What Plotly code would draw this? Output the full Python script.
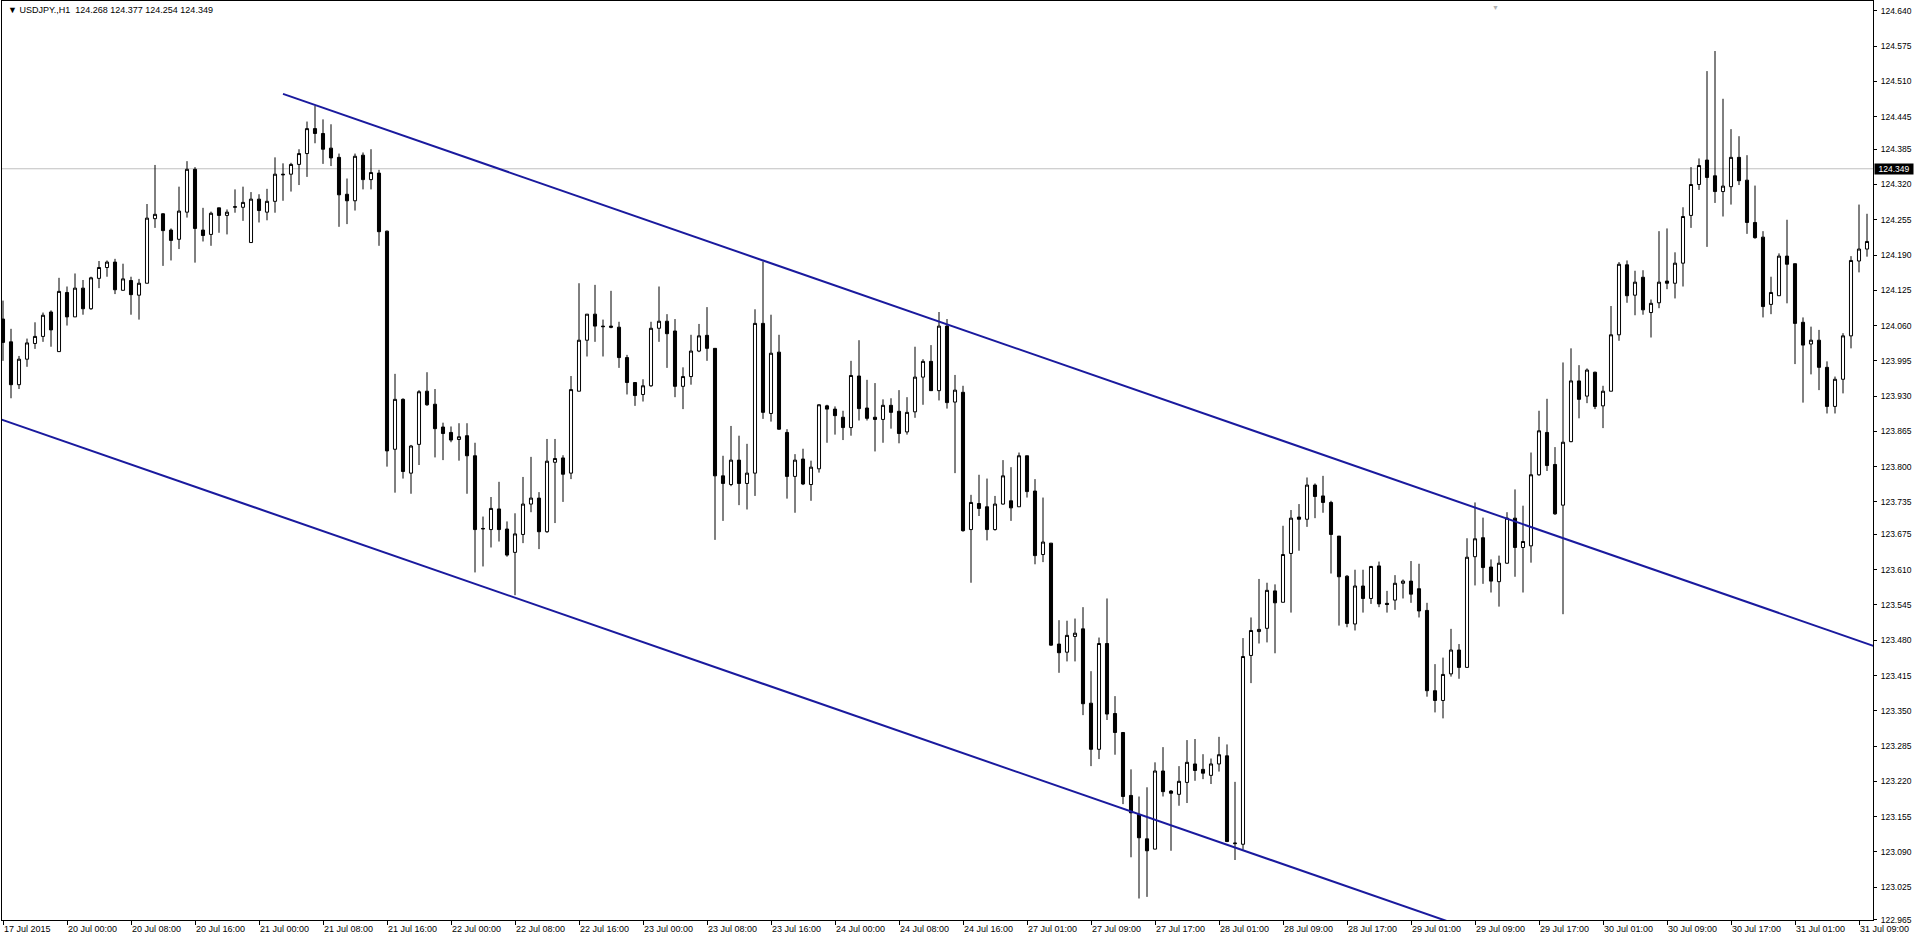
import plotly.graph_objects as go

# ---------------- data (USDJPY H1) ----------------
opens = [
    124.072, 124.030, 123.951, 123.998, 124.027, 124.040, 124.085, 124.012, 124.121, 124.076,
    124.129, 124.091, 124.147, 124.167, 124.177, 124.125, 124.143, 124.116, 124.138, 124.257,
    124.266, 124.236, 124.219, 124.269, 124.348, 124.236, 124.228, 124.277, 124.263, 124.278,
    124.278, 124.213, 124.293, 124.269, 124.289, 124.339, 124.339, 124.357, 124.377, 124.423,
    124.414, 124.387, 124.370, 124.302, 124.290, 124.374, 124.329, 124.341, 124.234, 123.832,
    123.924, 123.788, 123.841, 123.939, 123.915, 123.873, 123.863, 123.850, 123.857, 123.820,
    123.685, 123.684, 123.722, 123.685, 123.642, 123.675, 123.731, 123.742, 123.680, 123.808,
    123.816, 123.788, 123.939, 124.033, 124.081, 124.059, 124.059, 124.057, 124.001, 123.955,
    123.933, 123.949, 124.055, 124.068, 124.050, 123.948, 123.966, 124.013, 124.042, 124.018,
    123.783, 123.767, 123.812, 123.769, 123.788, 124.064, 123.898, 124.011, 123.863, 123.782,
    123.814, 123.767, 123.796, 123.912, 123.906, 123.891, 123.872, 123.967, 123.908, 123.891,
    123.887, 123.913, 123.902, 123.864, 123.901, 123.965, 123.994, 123.940, 124.059, 123.919,
    123.937, 123.684, 123.732, 123.726, 123.684, 123.731, 123.737, 123.726, 123.820, 123.755,
    123.638, 123.659, 123.473, 123.458, 123.487, 123.501, 123.364, 123.279, 123.474, 123.345,
    123.310, 123.194, 123.159, 123.114, 123.095, 123.239, 123.202, 123.196, 123.218, 123.252,
    123.242, 123.231, 123.252, 123.267, 123.105, 123.104, 123.452, 123.496, 123.502, 123.571,
    123.550, 123.640, 123.707, 123.703, 123.766, 123.746, 123.734, 123.672, 123.598, 123.510,
    123.580, 123.557, 123.617, 123.548, 123.554, 123.585, 123.589, 123.575, 123.535, 123.387,
    123.369, 123.418, 123.462, 123.430, 123.634, 123.669, 123.615, 123.588, 123.622, 123.705,
    123.651, 123.654, 123.785, 123.863, 123.804, 123.729, 123.846, 123.958, 123.930, 123.974,
    123.912, 123.939, 124.043, 124.172, 124.116, 124.149, 124.084, 124.102, 124.142, 124.138,
    124.175, 124.263, 124.320, 124.365, 124.336, 124.307, 124.316, 124.370, 124.328, 124.250,
    124.223, 124.099, 124.115, 124.188, 124.174, 124.066, 124.026, 124.033, 123.983, 123.911,
    123.961, 124.041, 124.179, 124.201,
]
highs = [
    124.106, 124.054, 124.004, 124.036, 124.066, 124.084, 124.088, 124.148, 124.132, 124.156,
    124.144, 124.150, 124.179, 124.180, 124.183, 124.174, 124.150, 124.146, 124.284, 124.356,
    124.267, 124.239, 124.316, 124.363, 124.352, 124.277, 124.270, 124.277, 124.274, 124.311,
    124.316, 124.306, 124.302, 124.312, 124.370, 124.359, 124.360, 124.385, 124.436, 124.465,
    124.440, 124.431, 124.377, 124.331, 124.377, 124.379, 124.385, 124.347, 124.235, 123.971,
    123.926, 123.840, 123.941, 123.974, 123.943, 123.881, 123.874, 123.880, 123.880, 123.844,
    123.708, 123.744, 123.772, 123.699, 123.714, 123.781, 123.818, 123.753, 123.851, 123.851,
    123.821, 123.967, 124.138, 124.081, 124.135, 124.071, 124.124, 124.067, 124.006, 123.955,
    123.961, 124.067, 124.132, 124.081, 124.072, 123.983, 124.043, 124.063, 124.094, 124.018,
    123.820, 123.875, 123.857, 123.842, 124.090, 124.178, 124.080, 124.043, 123.869, 123.823,
    123.833, 123.811, 123.915, 123.914, 123.911, 123.903, 123.995, 124.033, 123.960, 123.954,
    123.924, 123.926, 123.941, 123.928, 124.021, 123.998, 124.024, 124.085, 124.072, 123.969,
    123.949, 123.748, 123.785, 123.778, 123.746, 123.812, 123.799, 123.826, 123.820, 123.777,
    123.743, 123.659, 123.517, 123.516, 123.520, 123.541, 123.423, 123.485, 123.557, 123.377,
    123.310, 123.242, 123.192, 123.209, 123.255, 123.283, 123.204, 123.248, 123.296, 123.298,
    123.270, 123.262, 123.302, 123.288, 123.219, 123.484, 123.522, 123.593, 123.586, 123.583,
    123.691, 123.720, 123.731, 123.780, 123.769, 123.783, 123.737, 123.672, 123.600, 123.610,
    123.610, 123.617, 123.625, 123.571, 123.600, 123.592, 123.626, 123.621, 123.549, 123.436,
    123.448, 123.501, 123.473, 123.668, 123.734, 123.706, 123.629, 123.636, 123.716, 123.758,
    123.728, 123.826, 123.903, 123.925, 123.836, 123.992, 124.018, 123.987, 123.981, 123.975,
    123.949, 124.096, 124.177, 124.180, 124.161, 124.162, 124.108, 124.234, 124.239, 124.195,
    124.278, 124.352, 124.368, 124.529, 124.566, 124.478, 124.422, 124.409, 124.374, 124.318,
    124.234, 124.150, 124.193, 124.255, 124.174, 124.075, 124.058, 124.052, 123.994, 123.966,
    124.046, 124.188, 124.283, 124.266,
]
lows = [
    123.995, 123.926, 123.943, 123.984, 124.017, 124.030, 124.021, 124.012, 124.060, 124.076,
    124.080, 124.089, 124.129, 124.150, 124.118, 124.125, 124.080, 124.071, 124.138, 124.240,
    124.170, 124.180, 124.201, 124.259, 124.176, 124.215, 124.207, 124.231, 124.228, 124.268,
    124.253, 124.213, 124.250, 124.254, 124.268, 124.290, 124.307, 124.319, 124.334, 124.396,
    124.358, 124.354, 124.242, 124.247, 124.272, 124.311, 124.311, 124.207, 123.800, 123.752,
    123.778, 123.750, 123.803, 123.912, 123.817, 123.812, 123.845, 123.811, 123.750, 123.605,
    123.616, 123.651, 123.662, 123.634, 123.563, 123.659, 123.716, 123.648, 123.678, 123.696,
    123.735, 123.777, 123.939, 124.003, 124.030, 124.003, 124.055, 123.982, 123.933, 123.912,
    123.920, 123.947, 124.030, 123.982, 123.928, 123.906, 123.951, 124.011, 123.995, 123.665,
    123.700, 123.764, 123.729, 123.721, 123.746, 123.888, 123.883, 123.868, 123.741, 123.715,
    123.766, 123.737, 123.789, 123.844, 123.859, 123.849, 123.857, 123.885, 123.885, 123.828,
    123.844, 123.870, 123.843, 123.859, 123.890, 123.914, 123.940, 123.922, 123.907, 123.788,
    123.680, 123.586, 123.709, 123.664, 123.682, 123.730, 123.700, 123.726, 123.743, 123.620,
    123.624, 123.470, 123.420, 123.441, 123.441, 123.342, 123.248, 123.261, 123.333, 123.269,
    123.178, 123.080, 123.004, 123.007, 123.095, 123.192, 123.092, 123.175, 123.180, 123.221,
    123.224, 123.215, 123.238, 123.108, 123.075, 123.094, 123.401, 123.474, 123.476, 123.456,
    123.550, 123.531, 123.645, 123.689, 123.705, 123.715, 123.603, 123.507, 123.504, 123.498,
    123.531, 123.547, 123.541, 123.531, 123.536, 123.557, 123.549, 123.522, 123.376, 123.347,
    123.336, 123.413, 123.409, 123.430, 123.581, 123.584, 123.568, 123.542, 123.621, 123.597,
    123.568, 123.623, 123.783, 123.792, 123.711, 123.528, 123.845, 123.889, 123.917, 123.906,
    123.871, 123.939, 124.032, 124.102, 124.079, 124.080, 124.038, 124.092, 124.127, 124.110,
    124.132, 124.240, 124.310, 124.205, 124.286, 124.261, 124.283, 124.319, 124.229, 124.220,
    124.075, 124.081, 124.115, 124.101, 123.989, 123.918, 123.970, 123.941, 123.898, 123.898,
    123.935, 124.018, 124.158, 124.187,
]
closes = [
    124.029, 123.951, 123.998, 124.028, 124.040, 124.079, 124.052, 124.123, 124.076, 124.129,
    124.091, 124.148, 124.167, 124.177, 124.126, 124.146, 124.117, 124.138, 124.258, 124.265,
    124.235, 124.217, 124.271, 124.348, 124.239, 124.226, 124.267, 124.263, 124.269, 124.279,
    124.287, 124.293, 124.272, 124.289, 124.339, 124.338, 124.357, 124.377, 124.423, 124.414,
    124.385, 124.369, 124.301, 124.290, 124.372, 124.329, 124.342, 124.233, 123.829, 123.924,
    123.791, 123.838, 123.938, 123.914, 123.870, 123.861, 123.849, 123.855, 123.820, 123.684,
    123.686, 123.723, 123.684, 123.637, 123.676, 123.731, 123.742, 123.680, 123.810, 123.815,
    123.786, 123.942, 124.033, 124.081, 124.059, 124.058, 124.057, 124.001, 123.955, 123.931,
    123.949, 124.055, 124.068, 124.045, 123.948, 123.966, 124.013, 124.041, 124.018, 123.783,
    123.769, 123.812, 123.769, 123.788, 124.064, 123.900, 124.009, 123.869, 123.782, 123.812,
    123.768, 123.799, 123.914, 123.906, 123.894, 123.872, 123.968, 123.907, 123.889, 123.887,
    123.913, 123.900, 123.861, 123.900, 123.965, 123.994, 123.940, 124.059, 123.918, 123.941,
    123.682, 123.734, 123.723, 123.684, 123.731, 123.783, 123.724, 123.820, 123.754, 123.636,
    123.661, 123.471, 123.457, 123.489, 123.493, 123.363, 123.279, 123.474, 123.344, 123.310,
    123.192, 123.162, 123.116, 123.092, 123.239, 123.201, 123.198, 123.220, 123.255, 123.240,
    123.235, 123.252, 123.269, 123.109, 123.106, 123.450, 123.498, 123.500, 123.572, 123.549,
    123.638, 123.705, 123.703, 123.766, 123.745, 123.734, 123.675, 123.597, 123.511, 123.580,
    123.557, 123.616, 123.547, 123.546, 123.585, 123.589, 123.565, 123.534, 123.387, 123.369,
    123.417, 123.462, 123.430, 123.633, 123.667, 123.614, 123.589, 123.622, 123.705, 123.651,
    123.662, 123.785, 123.866, 123.802, 123.713, 123.845, 123.958, 123.924, 123.978, 123.911,
    123.939, 124.043, 124.173, 124.115, 124.140, 124.089, 124.101, 124.140, 124.138, 124.175,
    124.261, 124.320, 124.355, 124.333, 124.307, 124.317, 124.370, 124.327, 124.250, 124.222,
    124.095, 124.121, 124.188, 124.173, 124.064, 124.024, 124.033, 123.983, 123.911, 123.961,
    124.041, 124.180, 124.201, 124.215,
]
bar_index = list(range(len(opens)))

tick_bars = [0, 8, 16, 24, 32, 40, 48, 56, 64, 72, 80, 88, 96, 104, 112,
             120, 128, 136, 144, 152, 160, 168, 176, 184, 192, 200, 208, 216, 224, 232]
tick_labels = [
    "17 Jul 2015", "20 Jul 00:00", "20 Jul 08:00", "20 Jul 16:00", "21 Jul 00:00",
    "21 Jul 08:00", "21 Jul 16:00", "22 Jul 00:00", "22 Jul 08:00", "22 Jul 16:00",
    "23 Jul 00:00", "23 Jul 08:00", "23 Jul 16:00", "24 Jul 00:00", "24 Jul 08:00",
    "24 Jul 16:00", "27 Jul 01:00", "27 Jul 09:00", "27 Jul 17:00", "28 Jul 01:00",
    "28 Jul 09:00", "28 Jul 17:00", "29 Jul 01:00", "29 Jul 09:00", "29 Jul 17:00",
    "30 Jul 01:00", "30 Jul 09:00", "30 Jul 17:00", "31 Jul 01:00", "31 Jul 09:00",
]
price_ticks = [
    124.640, 124.575, 124.510, 124.445, 124.385, 124.320, 124.255, 124.190, 124.125,
    124.060, 123.995, 123.930, 123.865, 123.800, 123.735, 123.675, 123.610, 123.545,
    123.480, 123.415, 123.350, 123.285, 123.220, 123.155, 123.090, 123.025, 122.965,
]
header_text = "USDJPY.,H1  124.268 124.377 124.254 124.349"
current_price = 124.349

# channel (trend lines), anchor points in (bar, price)
upper_line_bars = [35.0, 240.0]
upper_line_prices = [124.487, 123.438]
lower_line_bars = [-1.0, 240.0]
lower_line_prices = [123.891, 122.658]

# ---------------- figure ----------------
FONT = "Liberation Sans, Arial, sans-serif"
LINE_BLUE = "#1a1a9e"

fig = go.Figure()

fig.add_trace(go.Candlestick(
    x=bar_index, open=opens, high=highs, low=lows, close=closes,
    increasing=dict(fillcolor="white", line=dict(color="black", width=1)),
    decreasing=dict(fillcolor="black", line=dict(color="black", width=1)),
    whiskerwidth=0, showlegend=False, hoverinfo="skip",
))

fig.add_trace(go.Scatter(
    x=upper_line_bars, y=upper_line_prices, mode="lines",
    line=dict(color=LINE_BLUE, width=2), showlegend=False, hoverinfo="skip",
))
fig.add_trace(go.Scatter(
    x=lower_line_bars, y=lower_line_prices, mode="lines",
    line=dict(color=LINE_BLUE, width=2), showlegend=False, hoverinfo="skip",
))

# current price line
fig.add_shape(type="line", xref="paper", x0=0, x1=1, yref="y",
              y0=current_price, y1=current_price,
              line=dict(color="#c0c0c0", width=1), layer="below")

Y_TOP = 124.6582
Y_BOT = 122.9644

fig.update_layout(
    width=1915, height=938,
    margin=dict(l=2, r=42, t=1, b=18, pad=0),
    paper_bgcolor="white", plot_bgcolor="white",
    font=dict(family=FONT, size=9, color="black"),
    boxgap=0.45,
    showlegend=False,
    xaxis=dict(
        range=[-0.125, 233.75], rangeslider=dict(visible=False),
        tickmode="array", tickvals=tick_bars, ticktext=tick_labels,
        ticks="outside", ticklen=4, tickcolor="black", tickwidth=1,
        ticklabelposition="outside right",
        showgrid=False, zeroline=False,
        showline=True, linecolor="black", linewidth=1, mirror=True,
        tickfont=dict(family=FONT, size=9, color="black"),
        fixedrange=True,
    ),
    yaxis=dict(
        range=[Y_BOT, Y_TOP], side="right",
        tickmode="array", tickvals=price_ticks,
        ticktext=[f"{v:.3f}" for v in price_ticks],
        ticks="outside", ticklen=3, tickcolor="black", tickwidth=1,
        ticklabelstandoff=2,
        showgrid=False, zeroline=False,
        showline=True, linecolor="black", linewidth=1, mirror=True,
        tickfont=dict(family=FONT, size=8.5, color="black"),
        fixedrange=True,
    ),
)

# header (symbol / timeframe / OHLC)
fig.add_annotation(
    xref="paper", yref="paper", x=0, y=1, xanchor="left", yanchor="top",
    xshift=4, yshift=-2, showarrow=False,
    text="\u25BC " + header_text,
    font=dict(family=FONT, size=9, color="black"),
)

# chart-shift marker at the top
fig.add_annotation(
    xref="x", yref="paper", x=186.6, y=1, yanchor="top", yshift=-1,
    showarrow=False, text="\u25BC",
    font=dict(family=FONT, size=7, color="#b0b0b0"),
)

# current price label on the axis
fig.add_annotation(
    xref="paper", yref="y", x=1, y=current_price, xanchor="left", yanchor="middle",
    xshift=1, showarrow=False, text=f"{current_price:.3f}",
    bgcolor="black", font=dict(family=FONT, size=8.5, color="white"),
    width=38, height=10, align="center", borderpad=0,
)

fig.write_html(
    "out.html",
    config={"displayModeBar": False, "staticPlot": True},
    post_script="document.body.style.margin='0px';document.body.style.padding='0px';"
                "document.body.style.overflow='hidden';",
)
